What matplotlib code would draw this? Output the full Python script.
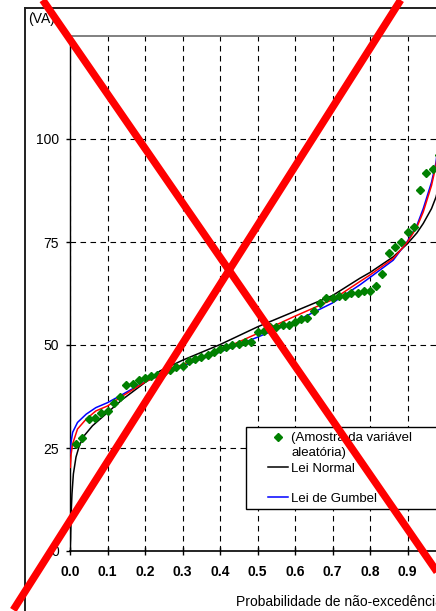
import matplotlib
matplotlib.use("Agg")
import matplotlib.pyplot as plt
from matplotlib.lines import Line2D
from matplotlib.patches import Rectangle

plt.rcParams['font.family'] = ['Liberation Sans', 'DejaVu Sans']

# amostra (probabilidade de nao-excedencia, valor)
amostra_p = [0.017, 0.033, 0.050, 0.067, 0.083, 0.100, 0.117, 0.133, 0.150, 0.167,
             0.183, 0.200, 0.217, 0.233, 0.250, 0.267, 0.283, 0.300, 0.317, 0.333,
             0.350, 0.367, 0.383, 0.400, 0.417, 0.433, 0.450, 0.467, 0.483, 0.500,
             0.517, 0.533, 0.550, 0.567, 0.583, 0.600, 0.617, 0.633, 0.650, 0.667,
             0.683, 0.700, 0.717, 0.733, 0.750, 0.767, 0.783, 0.800, 0.817, 0.833,
             0.850, 0.867, 0.883, 0.900, 0.917, 0.933, 0.950, 0.967, 0.983]
amostra_v = [26.0, 27.5, 32.1, 32.3, 33.5, 34.0, 35.9, 37.4, 40.4, 40.6,
             41.5, 41.9, 42.4, 42.7, 43.4, 43.9, 44.7, 45.0, 46.1, 46.5,
             47.0, 47.6, 48.3, 49.1, 49.6, 49.9, 50.3, 50.7, 50.7, 53.2,
             53.5, 54.3, 54.3, 54.8, 54.8, 55.6, 56.3, 56.5, 58.2, 60.2,
             61.4, 61.5, 61.8, 61.8, 62.6, 62.7, 63.2, 63.2, 64.4, 67.3,
             72.4, 73.7, 74.9, 77.4, 78.7, 87.6, 91.7, 92.8, 96.0]

# Lei Normal
normal_p = [0.0005, 0.0015, 0.003, 0.0053, 0.009, 0.016, 0.025, 0.038, 0.06, 0.1,
            0.14, 0.2, 0.24, 0.3, 0.4, 0.5, 0.6, 0.7, 0.773, 0.8,
            0.862, 0.9, 0.925, 0.942, 0.964, 0.976, 0.99]
normal_v = [0.5, 3.0, 9.0, 13.9, 18.7, 22.8, 25.6, 28.0, 30.4, 33.6,
            36.8, 40.9, 43.7, 46.3, 50.1, 54.4, 58.2, 62.0, 66.2, 67.6,
            71.4, 74.6, 77.2, 79.5, 83.1, 85.9, 91.0]

# Lei de Gumbel
gumbel_p = [0.001, 0.003, 0.007, 0.02, 0.043, 0.069, 0.1, 0.14, 0.2, 0.3,
            0.4, 0.5, 0.6, 0.7, 0.773, 0.8, 0.862, 0.9, 0.925, 0.942,
            0.964, 0.976, 0.99]
gumbel_v = [23.6, 26.5, 28.8, 31.2, 33.2, 34.8, 36.0, 38.0, 41.1, 44.9,
            48.3, 51.9, 55.7, 60.2, 64.6, 66.4, 70.6, 75.2, 79.0, 83.1,
            89.5, 94.3, 105.0]

# terceira lei (vermelho)
outra_p = [0.001, 0.003, 0.007, 0.02, 0.043, 0.069, 0.1, 0.14, 0.2, 0.3,
           0.4, 0.5, 0.6, 0.7, 0.773, 0.8, 0.862, 0.9, 0.925, 0.942,
           0.964, 0.976, 0.99]
outra_v = [20.3, 23.5, 26.0, 29.6, 32.0, 34.0, 35.2, 37.6, 41.0, 45.3,
           48.7, 52.8, 57.0, 61.0, 65.4, 67.0, 71.0, 75.0, 78.6, 82.3,
           88.7, 93.6, 103.0]

xticks = [0.0, 0.1, 0.2, 0.3, 0.4, 0.5, 0.6, 0.7, 0.8, 0.9, 1.0]
xlabels = ['0.0', '0.1', '0.2', '0.3', '0.4', '0.5', '0.6', '0.7', '0.8', '0.9', '']
yticks = [0, 25, 50, 75, 100]

W, H = 436, 611
fig = plt.figure(figsize=(W / 100, H / 100), dpi=100)
ax = fig.add_axes([70 / W, 1 - 551 / H, 375 / W, 515 / H])

ax.plot(normal_p, normal_v, color='black', lw=1.1, zorder=3)
ax.plot(gumbel_p, gumbel_v, color='blue', lw=1.1, zorder=3)
ax.plot(outra_p, outra_v, color='red', lw=1.1, zorder=3)
ax.plot(amostra_p, amostra_v, ls='none', marker='D', ms=3.6, color='green',
        mec='green', zorder=4)

ax.set_xlim(0, 1)
ax.set_ylim(0, 125)
ax.set_xticks(xticks)
ax.set_xticklabels(xlabels, fontweight='bold', fontsize=10)
ax.set_yticks(yticks)
ax.tick_params(axis='y', labelsize=10, direction='out', length=3, width=1, pad=5)
ax.tick_params(axis='x', direction='inout', length=6, width=1, pad=7)
ax.grid(True, color='black', lw=0.8, ls=(0, (5, 4)))
ax.set_axisbelow(True)

ax.spines['top'].set_color('#808080')
ax.spines['top'].set_linewidth(1.4)
ax.spines['right'].set_visible(False)
ax.spines['left'].set_linewidth(1)
ax.spines['bottom'].set_linewidth(1.2)

ax.set_xlabel('Probabilidade de não-excedência', fontsize=10, ha='left', va='center')
ax.xaxis.set_label_coords((236 - 70) / 375, (551 - 601.7) / 515)
ax.set_ylabel('(VA)', fontsize=10, rotation=0, ha='left', va='center')
ax.yaxis.set_label_coords((28 - 70) / 375, (551 - 19) / 515)

# caixa da legenda
ax.add_patch(Rectangle(((246 - 70) / 375, (551 - 509) / 515), 0.6, 82 / 515,
                       transform=ax.transAxes, facecolor='white', edgecolor='black',
                       lw=1, zorder=5, clip_on=False))
handles = [Line2D([], [], ls='none', marker='D', ms=3.6, color='green'),
           Line2D([], [], ls='none'),
           Line2D([], [], color='black', lw=1.1),
           Line2D([], [], ls='none'),
           Line2D([], [], color='blue', lw=1.1)]
labels = ['(Amostra da variável', 'aleatória)', 'Lei Normal', ' ', 'Lei de Gumbel']
leg = ax.legend(handles, labels, loc='upper left', frameon=False, fontsize=9.5,
                bbox_to_anchor=((268 - 70) / 375, (551 - 432) / 515),
                borderpad=0, borderaxespad=0, handlelength=1.5, handletextpad=0.25,
                labelspacing=0.22)
leg.set_zorder(6)

# moldura exterior
fig.add_artist(Line2D([24.5 / W, 24.5 / W], [0, 1 - 8 / H], color='#202020', lw=1.4))
fig.add_artist(Line2D([24.5 / W, 1], [1 - 8 / H, 1 - 8 / H], color='#202020', lw=1.4))

# cruz vermelha por cima
fig.add_artist(Line2D([42.7 / W, 464 / W], [1.0, 1 - 611 / H], color='red', lw=5.4,
                      solid_capstyle='butt', zorder=10))
fig.add_artist(Line2D([13.3 / W, 400.7 / W], [1 - 610 / H, 1.0], color='red', lw=5.4,
                      solid_capstyle='butt', zorder=10))

fig.savefig('out.png', dpi=100)
